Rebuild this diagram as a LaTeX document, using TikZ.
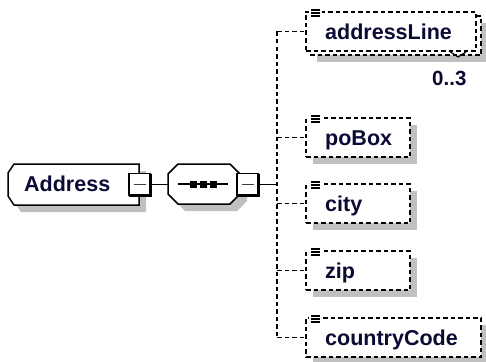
\documentclass[tikz,border=0pt]{standalone}
\usepackage{fontspec}
\setmainfont{Liberation Sans}
\usetikzlibrary{calc,backgrounds}
\definecolor{navy}{HTML}{0A0A34}
\definecolor{shadowgray}{HTML}{C0C0C0}
\newcommand\elicon[1]{%
  \fill[white] ($(#1.north west)+(3,-4)$) rectangle ($(#1.north west)+(16,6)$);
  \foreach \dy in {-2,1,4} \draw[line width=1.3pt] ($(#1.north west)+(5,\dy)$) -- ($(#1.north west)+(14,\dy)$);
}
\begin{document}
\begin{tikzpicture}[x=1pt,y=-1pt,
  elbox/.style={draw=black, dash pattern=on 4.5pt off 3pt, line width=1.6pt, fill=white, inner sep=0pt, outer sep=0pt, anchor=north west},
  conn/.style={draw=black, line width=1.6pt, dash pattern=on 4.5pt off 3pt},
  solidline/.style={draw=black, line width=1.5pt},
  frame/.style={inner sep=0pt, outer sep=0pt, anchor=north west},
  lbl/.style={font=\fontsize{21.5}{24}\selectfont\bfseries, text=navy, inner sep=0pt, anchor=base west},
  occlbl/.style={font=\fontsize{20.5}{24}\selectfont\bfseries, text=navy, inner sep=0pt, anchor=base west},
  minusbox/.style={draw=black, line width=1.5pt, fill=white, minimum width=21pt, minimum height=22pt, inner sep=0pt, outer sep=0pt},
  seqdot/.style={fill=black, minimum size=7pt, inner sep=0pt},
  shadowfill/.style={fill=shadowgray, draw=none},
  compshape/.style={draw=black, line width=1.5pt, fill=white},
]
\useasboundingbox (0,0) rectangle (486,361);
\clip (0,0) rectangle (486,361);

% ---- Address element ----
\fill[shadowfill] (21,171) -- (146,171) -- (146,212) -- (21,212) -- (15,203) -- (15,180) -- cycle;
\path[compshape] (14,164) -- (139,164) -- (139,205) -- (14,205) -- (8,196) -- (8,173) -- cycle;
\node[frame, minimum width=131pt, minimum height=41pt] (addr) at (8,164) {};
\node[lbl] (addrt) at (24,191.5) {Address};
\node[minusbox] (addrm) at (139.5,184.5) {};
\draw[line width=3pt] (addrm.north east) -- (addrm.south east) -- (addrm.south west);
\draw[line width=1.6pt, draw=black!75] ($(addrm.center)+(-6,0)$) -- ($(addrm.center)+(6,0)$);

% ---- Sequence compositor ----
\fill[shadowfill] (185,171) -- (237,171) -- (247,181) -- (247,201) -- (237,211) -- (185,211) -- (175,201) -- (175,181) -- cycle;
\path[compshape] (178,164) -- (230,164) -- (240,174) -- (240,194) -- (230,204) -- (178,204) -- (168,194) -- (168,174) -- cycle;
\node[frame, minimum width=72pt, minimum height=40pt] (seq) at (168,164) {};
\draw[solidline] (addrm.east) -- (addrm.east -| seq.west);
\draw[solidline] (178,184) -- (228,184);
\node[seqdot] (d1) at (193,184) {};
\node[seqdot] (d2) at (203,184) {};
\node[seqdot] (d3) at (213,184) {};
\node[minusbox] (seqm) at (247.5,184.5) {};
\draw[line width=3pt] (seqm.north east) -- (seqm.south east) -- (seqm.south west);
\draw[line width=1.6pt, draw=black!75] ($(seqm.center)+(-6,0)$) -- ($(seqm.center)+(6,0)$);
\coordinate (tx) at (277,184.5);
\draw[solidline] (seqm.east) -- (tx);

% ---- Child elements ----
\node[elbox, minimum width=171pt, minimum height=39pt] (alb) at (310,16) {};
\node[elbox, minimum width=170pt, minimum height=39pt] (al) at (306,12) {};
\node[elbox, minimum width=104pt, minimum height=39pt] (pobox) at (306,118) {};
\node[elbox, minimum width=104pt, minimum height=39pt] (city) at (306,184) {};
\node[elbox, minimum width=104pt, minimum height=39pt] (zip) at (306,251) {};
\node[elbox, minimum width=175pt, minimum height=39pt] (cc) at (306,318) {};

\begin{scope}[on background layer]
  \fill[shadowfill] ($(alb.north west)+(7,7)$) rectangle ($(alb.south east)+(7,7)$);
  \fill[shadowfill] ($(pobox.north west)+(7,7)$) rectangle ($(pobox.south east)+(7,7)$);
  \fill[shadowfill] ($(city.north west)+(7,7)$) rectangle ($(city.south east)+(7,7)$);
  \fill[shadowfill] ($(zip.north west)+(7,7)$) rectangle ($(zip.south east)+(7,7)$);
  \fill[shadowfill] ($(cc.north west)+(7,7)$) rectangle ($(cc.south east)+(7,7)$);
\end{scope}

\elicon{al}
\elicon{pobox}
\elicon{city}
\elicon{zip}
\elicon{cc}

\node[lbl] (alt) at ($(al.west)+(19,7.5)$) {addressLine};
\node[lbl] (poboxt) at ($(pobox.west)+(19,7.5)$) {poBox};
\node[lbl] (cityt) at ($(city.west)+(19,7.5)$) {city};
\node[lbl] (zipt) at ($(zip.west)+(19,7.5)$) {zip};
\node[lbl] (cct) at ($(cc.west)+(19,7.5)$) {countryCode};

% occurrence mark and label
\draw[line width=1.2pt] (449,51) -- (458,57) -- (466,52);
\node[occlbl] (occ) at (432,85) {0..3};

% ---- connectors ----
\draw[conn] (tx |- al.west) -- (tx |- cc.west);
\draw[conn] (tx |- al.west) -- (al.west);
\draw[conn] (tx |- pobox.west) -- (pobox.west);
\draw[conn] (tx |- city.west) -- (city.west);
\draw[conn] (tx |- zip.west) -- (zip.west);
\draw[conn] (tx |- cc.west) -- (cc.west);
\end{tikzpicture}
\end{document}
